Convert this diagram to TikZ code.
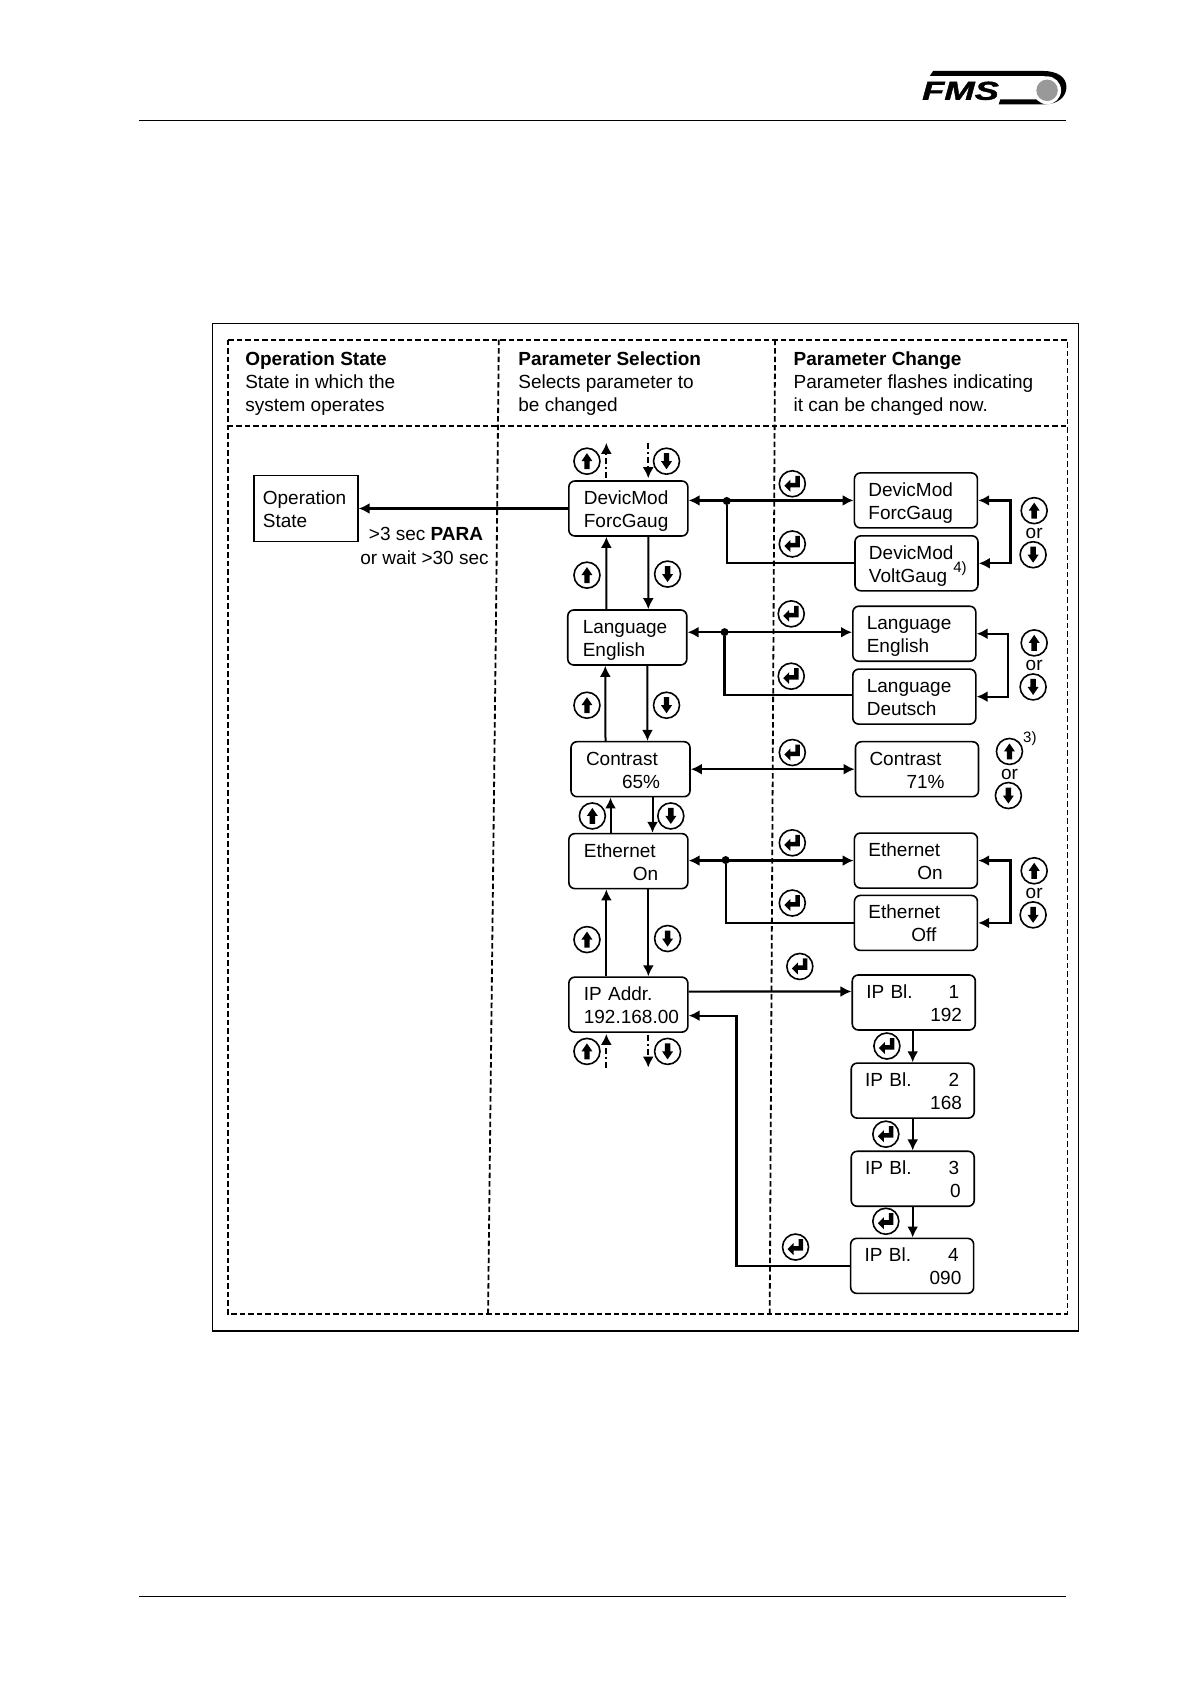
\documentclass[tikz,border=0pt]{standalone}
\usepackage{fontspec}
\setmainfont{Liberation Sans}
\newfontface\fmsfont[FakeBold=1.2]{Liberation Sans Bold Italic}
\usetikzlibrary{arrows.meta,positioning,shapes.geometric}

\tikzset{
	>={Latex[length=11pt,width=11pt]},
	menu/.style={rectangle, draw, rounded corners=6pt, line width=1.6pt, align=left, inner xsep=15pt, inner ysep=0pt, minimum height=55pt, text width=89pt, font=\fontsize{19}{23}\selectfont, execute at begin node={\rule{0pt}{22pt}}, execute at end node={\rule[-7pt]{0pt}{7pt}}},
	choice/.style={menu, inner xsep=14pt, text width=95pt},
	label/.style={inner sep=0pt, align=left, anchor=north west, font=\fontsize{19}{23}\selectfont},
	link/.style={line width=2.2pt},
	vlink/.style={line width=2pt},
	gridline/.style={line width=1.8pt, dash pattern=on 5.5pt off 3pt},
	hop/.style={line width=1.8pt, dash pattern=on 6pt off 3pt on 2pt off 3pt},
	dot/.style={circle, fill=black, inner sep=0pt, minimum size=8pt},
	key/.style={circle, draw, line width=1.6pt, inner sep=0pt, minimum size=26pt},
	upkey/.style={key, path picture={\fill (path picture bounding box.center) ++(0,8pt) -- ++(5.5pt,-8pt) -- ++(-2.8pt,0) -- ++(0,-8pt) -- ++(-5.4pt,0) -- ++(0,8pt) -- ++(-2.8pt,0) -- cycle;}},
	downkey/.style={key, path picture={\fill (path picture bounding box.center) ++(0,-8pt) -- ++(5.5pt,8pt) -- ++(-2.8pt,0) -- ++(0,8pt) -- ++(-5.4pt,0) -- ++(0,-8pt) -- ++(-2.8pt,0) -- cycle;}},
	enterkey/.style={key, path picture={\fill (path picture bounding box.center) ++(-8pt,-2pt) -- ++(6pt,6pt) -- ++(0,-3pt) -- ++(5pt,0) -- ++(0,7pt) -- ++(4.5pt,0) -- ++(0,-11.5pt) -- ++(-9.5pt,0) -- ++(0,-4.5pt) -- cycle;}},
}

\begin{document}
\begin{tikzpicture}[x=1.075pt, y=-1.075pt]
	\useasboundingbox (0,0) rectangle (1108,1567.4);

	% page furniture
	\draw[line width=1.2pt] (129,112) -- (992,112);
	\draw[line width=1.2pt] (129,1485) -- (992,1485);
	\fill (868,66) -- (970,66) .. controls (984,66) and (992,72) .. (992,81) .. controls (992,90) and (984,97) .. (972,97) -- (929,97) -- (930.5,92.5) -- (972,92.5) -- (972,70.5) -- (865,70.5) -- cycle;
	\fill[white] (974,84) circle (13);
	\fill[black!40] (974,84) circle (10);
	\node[inner sep=0pt, xscale=1.4, transform shape, font=\fontsize{26}{26}\fmsfont] (fms) at (893.5,84.5) {FMS};

	% frame and grid
	\draw[line width=1.2pt] (198,301) rectangle (1003,1238);
	\draw[gridline] (212,316) rectangle (993,1222);
	\draw[gridline] (212,396) -- (993,396);
	\draw[gridline] (464,316) -- (462,520) -- (454,1222);
	\draw[gridline] (721,316) -- (716,1222);

	% column heads
	\node[label] (headop) at (228,327) {\textbf{Operation State}\\State in which the\\system operates};
	\node[label] (headsel) at (482,327) {\textbf{Parameter Selection}\\Selects parameter to\\be changed};
	\node[label] (headchg) at (738,327) {\textbf{Parameter Change}\\Parameter flashes indicating\\it can be changed now.};

	% operation state
	\node[rectangle, draw, line width=1.6pt, align=left, inner xsep=9pt, inner ysep=0pt, minimum height=66pt, text width=86pt, font=\fontsize{19}{23}\selectfont, execute at begin node={\rule{0pt}{22pt}}, execute at end node={\rule[-7pt]{0pt}{7pt}}] (opstate) at (284.5,473) {Operation\\State};
	\node[label, anchor=west] (para) at (343,497) {>3 sec \textbf{PARA}};
	\node[label, anchor=west] (wait) at (335,519) {or wait >30 sec};

	% parameter selection
	\node[menu] (dev) at (584.5,473) {DevicMod\\ForcGaug};
	\node[menu] (lang) at (583.5,593) {Language\\English};
	\node[menu] (con) at (586.5,715.5) {Contrast\\\hspace*{36pt}65\%};
	\node[menu] (eth) at (584.5,801) {Ethernet\\\hspace*{49pt}On};
	\node[menu] (ip) at (584.5,934.5) {IP Addr.\\\leavevmode\rlap{192.168.00}};

	% parameter change
	\node[choice] (devF) at (852,465.5) {DevicMod\\ForcGaug};
	\node[choice] (devV) at (852.5,524) {DevicMod\\VoltGaug};
	\node[choice] (langE) at (850.5,589.5) {Language\\English};
	\node[choice] (langD) at (850.5,648) {Language\\Deutsch};
	\node[choice] (conV) at (853,715.5) {Contrast\\\hspace*{37pt}71\%};
	\node[choice] (ethOn) at (852,800.5) {Ethernet\\\hspace*{49pt}On};
	\node[choice] (ethOff) at (852,858.5) {Ethernet\\\hspace*{43pt}Off};
	\node[choice] (bl1) at (850,932.5) {IP Bl.\rlap{\hspace*{36pt}1}\\\leavevmode\rlap{\hspace*{64pt}192}};
	\node[choice] (bl2) at (849,1014.5) {IP Bl.\rlap{\hspace*{37pt}2}\\\leavevmode\rlap{\hspace*{65pt}168}};
	\node[choice] (bl3) at (849,1096.5) {IP Bl.\rlap{\hspace*{37pt}3}\\\leavevmode\rlap{\hspace*{85pt}0}};
	\node[choice] (bl4) at (848.5,1177.5) {IP Bl.\rlap{\hspace*{37pt}4}\\\leavevmode\rlap{\hspace*{65pt}090}};

	\node[inner sep=0pt, font=\fontsize{15}{15}\selectfont] (nt4) at (893,529) {4)};
	\node[inner sep=0pt, font=\fontsize{15}{15}\selectfont] (nt3) at (958,687) {3)};

	% keys
	\foreach \x/\y/\n in {546/429/ua,546/535/ub,546/656/uc,551/759/ud,546/874/ue,546/978/uf,962/475/ug,962/598/uh,939/699/ui,962/810/uj}
		\node[upkey] (\n) at (\x,\y) {};
	\foreach \x/\y/\n in {620/429/da,621/534/db,620/656/dc,624/759/dd,621/873/de,621/978/df,961/516/dg,961/639/dh,938/740/di,961/851/dj}
		\node[downkey] (\n) at (\x,\y) {};
	\foreach \x/\y/\n in {737/450/ea,737/506/eb,736/571/ec,736/629/ed,737/700/ee,737/784/ef,737/840/eg,744/899/eh,825/973/ei,824/1055/ej,824/1136/ek,740/1160/el}
		\node[enterkey] (\n) at (\x,\y) {};
	\foreach \x/\y/\n in {962/496/ora,962/619/orb,939/720/orc,962/831/ord}
		\node[inner sep=0pt, font=\fontsize{19}{19}\selectfont] (\n) at (\x,\y) {or};

	% selection column
	\coordinate (topup) at (564,412);
	\coordinate (topdown) at (603,412);
	\coordinate (botup) at (564,993);
	\coordinate (botdown) at (603,993);
	\draw[hop,->] ([yshift=2pt]dev.north -| topup) -- (topup);
	\draw[hop,->] (topdown) -- ([yshift=2pt]dev.north -| topdown);
	\draw[hop,->] (botup) -- ([yshift=-1pt]ip.south -| botup);
	\draw[hop,->] ([yshift=-2pt]ip.south -| botdown) -- (botdown);

	\draw[vlink,->] ([xshift=-21pt]lang.north) -- ([xshift=-22pt]dev.south);
	\draw[vlink,->] ([xshift=20pt]dev.south) -- ([xshift=21pt]lang.north);
	\draw[vlink,->] ([xshift=-25pt]con.north) -- ([xshift=-22pt]lang.south);
	\draw[vlink,->] ([xshift=20pt]lang.south) -- ([xshift=17pt]con.north);
	\draw[vlink,->] ([xshift=-20pt]con.south |- eth.north) -- ([xshift=-20pt]con.south);
	\draw[vlink,->] ([xshift=22pt]con.south) -- ([xshift=22pt]con.south |- eth.north);
	\draw[vlink,->] ([xshift=-22pt]ip.north) -- ([xshift=-22pt]eth.south);
	\draw[vlink,->] ([xshift=20pt]eth.south) -- ([xshift=20pt]ip.north);

	% to the left
	\draw[link,->] (dev.west) -- (opstate.east);

	% selection to change
	\node[dot] (devJ) at (676,466) {};
	\node[dot] (langJ) at (674,588) {};
	\node[dot] (ethJ) at (675,800) {};
	\draw[link,<->] (devF.west -| dev.east) -- (devF.west);
	\draw[link] (devV.west) -| (devJ);
	\draw[link,<->] (devF.east) -- ++(30,0) |- (devV.east);
	\draw[link,<->] ([yshift=1.5pt]langE.west -| lang.east) -- ([yshift=1.5pt]langE.west);
	\draw[link] ([yshift=2pt]langD.west) -| (langJ);
	\draw[link,<->] (langE.east) -- ++(29,0) |- (langD.east);
	\draw[link,<->] (con.east) -- (conV.west);
	\draw[link,<->] (ethOn.west -| eth.east) -- (ethOn.west);
	\draw[link] (ethOff.west) -| (ethJ);
	\draw[link,<->] (ethOn.east) -- ++(30,0) |- (ethOff.east);

	% ip blocks
	\draw[link,->] ([yshift=13pt]ip.east) -- ([yshift=11pt]bl1.west);
	\draw[link,->] (bl2.north |- bl1.south) -- (bl2.north);
	\draw[link,->] (bl3.north |- bl2.south) -- (bl3.north);
	\draw[link,->] (bl3.south) -- (bl3.south |- bl4.north);
	\draw[link,->] (bl4.west) -- (685,1177.5) |- ([yshift=-11pt]ip.east);
\end{tikzpicture}
\end{document}
